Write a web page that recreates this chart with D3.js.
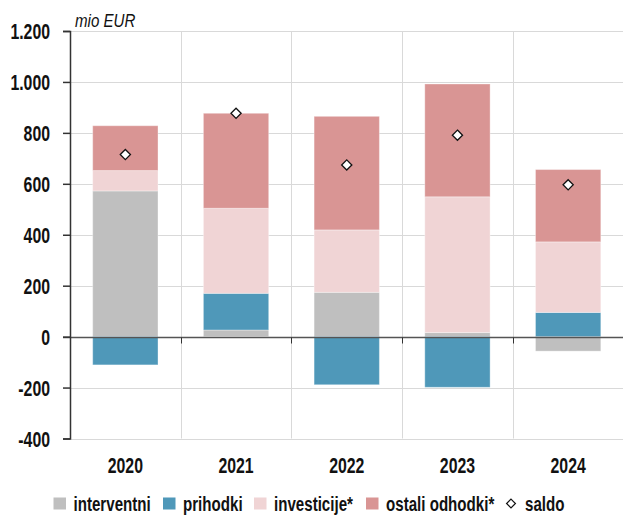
<!DOCTYPE html>
<html>
<head>
<meta charset="utf-8">
<script src="https://cdn.jsdelivr.net/npm/d3@7"></script>
<style>
  body { margin: 0; background: #fff; }
  text { font-family: "Liberation Sans", Arial, sans-serif; fill: #111; }
</style>
</head>
<body>
<div class="canva"></div>
<script>
const width = 623
const height = 515
const squeeze = 0.72 // narrow look of the original condensed font

// data (mio EUR)
const years = ["2020", "2021", "2022", "2023", "2024"]
const interventni = [572, 26, 174, 16, -57]
const prihodki = [-111, 144, -189, -199, 95]
const investicije = [80, 334, 245, 533, 277]
const ostali = [176, 373, 446, 443, 284]
const saldo = [715, 877, 674, 791, 596]
const yTicks = [-400, -200, 0, 200, 400, 600, 800, 1000, 1200]

const seriesNames = ["interventni", "prihodki", "investicije*", "ostali odhodki*"]
const colors = ["#bfbfbf", "#4f98b9", "#f0d4d5", "#d99594"]

const plotLeft = 70
const plotRight = 623.5

const svg = d3.select(".canva").append("svg").attr("width", width).attr("height", height)

const x = d3.scaleBand().domain(years).range([plotLeft, plotRight]).paddingInner(0.41).paddingOuter(0.205)
const y = d3.scaleLinear().domain([-400, 1200]).range([438.5, 31])

const table = years.map((yr, i) => ({
  year: yr,
  "interventni": interventni[i],
  "prihodki": prihodki[i],
  "investicije*": investicije[i],
  "ostali odhodki*": ostali[i]
}))
const stacked = d3.stack().keys(seriesNames).offset(d3.stackOffsetDiverging)(table)

// squeezed text helper
function label(sel, tx, ty, k) {
  return sel.attr("x", 0).attr("y", 0)
    .attr("transform", (d, i) => `translate(${typeof tx === "function" ? tx(d, i) : tx},${typeof ty === "function" ? ty(d, i) : ty}) scale(${k || squeeze},1)`)
}

// grid lines
const grid = svg.append("g")
grid.selectAll("line.h").data(yTicks).enter().append("line")
  .attr("x1", plotLeft).attr("x2", width)
  .attr("y1", d => Math.round(y(d)) + 0.5).attr("y2", d => Math.round(y(d)) + 0.5)
  .attr("stroke", "#d9d9d9").attr("stroke-width", 1)
const bounds = d3.range(1, years.length).map(i => plotLeft + (plotRight - plotLeft) / years.length * i)
grid.selectAll("line.v").data(bounds).enter().append("line")
  .attr("x1", d => Math.round(d) + 0.5).attr("x2", d => Math.round(d) + 0.5)
  .attr("y1", y(1200)).attr("y2", y(-400))
  .attr("stroke", "#d9d9d9").attr("stroke-width", 1)

// bars
svg.append("g").selectAll("g").data(stacked).enter().append("g")
  .attr("fill", (d, i) => colors[i])
  .selectAll("rect").data(d => d).enter().append("rect")
  .attr("x", d => x(d.data.year))
  .attr("width", x.bandwidth())
  .attr("y", d => y(Math.max(d[0], d[1])))
  .attr("height", d => Math.abs(y(d[0]) - y(d[1])))
  .attr("stroke", "#fff").attr("stroke-opacity", 0.35).attr("stroke-width", 1)

// zero line with ticks at category bounds
const y0 = Math.round(y(0)) + 0.5
svg.append("line").attr("x1", plotLeft - 7).attr("x2", width)
  .attr("y1", y0).attr("y2", y0).attr("stroke", "#555").attr("stroke-width", 1.5)
svg.append("g").selectAll("line").data(bounds).enter().append("line")
  .attr("x1", d => Math.round(d) + 0.5).attr("x2", d => Math.round(d) + 0.5)
  .attr("y1", y0).attr("y2", y0 + 6).attr("stroke", "#333").attr("stroke-width", 1)

// y axis
const yAxis = svg.append("g").attr("transform", `translate(${plotLeft},0)`)
  .call(d3.axisLeft(y).tickValues(yTicks).tickSize(7).tickFormat(""))
yAxis.select(".domain").attr("stroke", "#333").attr("stroke-width", 1.5)
yAxis.selectAll(".tick line").attr("stroke", "#333").attr("stroke-width", 1.5)

const fmt = d => d3.format(",")(d).replace(/,/g, ".").replace("−", "-")
label(svg.append("g").selectAll("text").data(yTicks).enter().append("text"),
  50, d => y(d) + 8)
  .attr("text-anchor", "end")
  .attr("font-size", 22).attr("font-weight", "bold")
  .text(fmt)

// year labels
label(svg.append("g").selectAll("text").data(years).enter().append("text"),
  d => x(d) + x.bandwidth() / 2, 472.5)
  .attr("text-anchor", "middle")
  .attr("font-size", 22).attr("font-weight", "bold")
  .text(d => d)

// saldo diamonds
svg.append("g").selectAll("path").data(saldo).enter().append("path")
  .attr("d", d3.symbol().type(d3.symbolDiamond2).size(66))
  .attr("transform", (d, i) => `translate(${x(years[i]) + x.bandwidth() / 2},${y(d)})`)
  .attr("fill", "#fff").attr("stroke", "#111").attr("stroke-width", 1.3)

// unit label
label(svg.append("text"), 75, 27, 0.84)
  .attr("font-size", 18).attr("font-style", "italic")
  .text("mio EUR")

// legend
const legendItems = [
  { name: "interventni", x: 53.5 },
  { name: "prihodki", x: 163 },
  { name: "investicije*", x: 254 },
  { name: "ostali odhodki*", x: 366 },
  { name: "saldo", x: 505 }
]
const legend = svg.append("g").selectAll("g").data(legendItems).enter().append("g")
  .attr("transform", d => `translate(${d.x},0)`)
legend.filter((d, i) => i < 4).append("rect")
  .attr("x", 0).attr("y", 497.5).attr("width", 12.5).attr("height", 12)
  .attr("fill", (d, i) => colors[i])
legend.filter((d, i) => i === 4).append("path")
  .attr("d", d3.symbol().type(d3.symbolDiamond2).size(50))
  .attr("transform", "translate(6,503.5)")
  .attr("fill", "#fff").attr("stroke", "#111").attr("stroke-width", 1.2)
label(legend.append("text"), 20, 510.5)
  .attr("font-size", 21).attr("font-weight", "bold")
  .text(d => d.name)
</script>
</body>
</html>
